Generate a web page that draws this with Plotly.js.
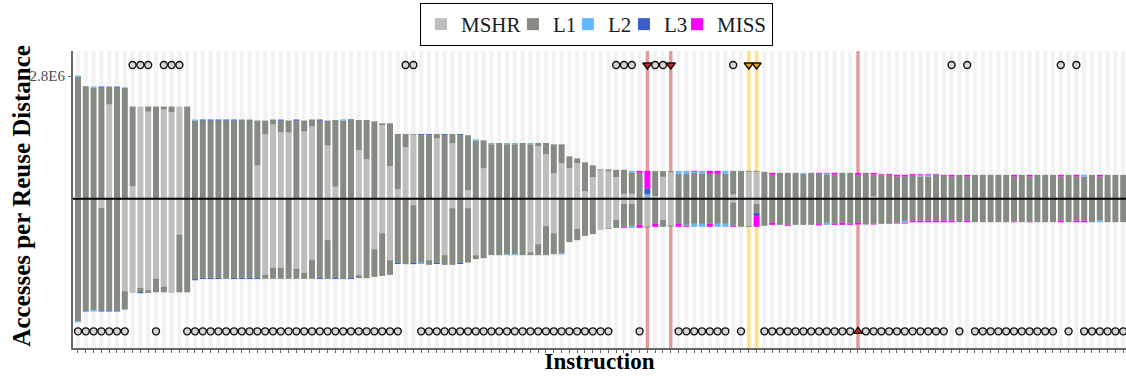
<!DOCTYPE html>
<html>
<head>
<meta charset="utf-8">
<script src="https://cdn.plot.ly/plotly-3.0.1.min.js"></script>
<style>html,body{margin:0;padding:0;background:#fff;}#chart{width:1126px;height:376px;}</style>
</head>
<body>
<div id="chart"></div>
<script>
// Values in millions of accesses (top = upper half, bot = lower half), one entry per instruction
const topMSHR = [
 0.036,0,0,0,2.150,0,0,0.287,2.104,1.990,
 0,2.036,1.974,2.104,0,0,0,0,0,0,
 0,0,0,0.759,1.466,1.694,1.518,1.512,0,1.534,
 1.648,0,1.215,0.278,0,0,1.113,0.901,0,1.676,
 0.748,0.217,1.174,1.459,0,0,1.379,0,1.265,0,
 0.194,0,0.695,0,0,0,0,0,0,1.204,
 1.015,0.581,0.809,0.695,0.809,0.171,0.490,0.650,0.622,0.495,
 0.114,0.114,0,0.039,0.062,0.502,0.609,0,0,0,
 0,0,0,0,0.098,0,0.616,0.616,0,0,
 0,0,0,0,0,0,0,0,0,0,
 0,0,0.052,0,0,0,0,0,0,0,
 0,0,0,0,0,0,0,0,0,0,
 0,0,0,0,0,0.023,0,0,0,0,
 0,0,0,0,0];
const topL1 = [
 2.747,2.567,2.533,2.533,0.410,2.533,2.538,1.817,0,0.114,
 2.104,0.068,0.130,0,2.104,1.781,1.781,1.781,1.781,1.781,
 1.781,1.808,1.808,1.026,0.319,0.114,0.262,0.274,1.781,0.251,
 0.160,1.781,0.570,1.518,1.785,1.785,0.684,0.896,1.767,0.046,
 0.974,1.261,0.303,0.018,1.450,1.450,0.098,1.450,0.212,1.450,
 1.254,1.329,0.638,1.245,1.272,1.245,1.245,1.272,1.245,0.068,
 0.258,0.661,0.433,0.274,0.114,0.661,0.274,0.023,0.050,0.166,
 0.547,0.479,0.593,0.007,0.570,0.130,0.023,0.570,0.570,0.593,
 0.570,0.570,0.570,0.570,0.540,0.638,0.023,0.023,0.616,0.547,
 0.593,0.593,0.593,0.570,0.593,0.570,0.554,0.554,0.593,0.593,
 0.547,0.593,0.502,0.554,0.547,0.508,0.508,0.547,0.508,0.508,
 0.554,0.524,0.508,0.547,0.508,0.547,0.547,0.547,0.547,0.547,
 0.508,0.547,0.508,0.547,0.547,0.524,0.508,0.547,0.508,0.508,
 0.547,0.508,0.547,0.547,0.547];
const topL2 = [
 0.027,0,0.027,0,0,0,0,0,0,0,
 0,0,0,0,0,0.027,0,0,0,0,
 0,0,0,0,0,0,0,0,0,0,
 0,0,0,0,0.027,0,0,0,0,0,
 0,0,0,0,0,0,0,0,0,0,
 0,0.027,0,0.027,0,0.027,0.027,0,0.027,0,
 0,0,0,0,0,0,0,0,0,0,
 0,0.046,0,0.059,0,0,0,0.068,0.068,0.023,
 0.068,0,0,0.068,0,0,0,0,0,0,
 0,0,0,0.023,0,0,0.023,0,0,0,
 0,0,0,0,0,0,0,0,0.046,0.046,
 0,0,0,0,0,0,0,0,0,0,
 0,0,0,0,0,0,0,0,0,0.039,
 0,0,0,0,0];
const topL3 = [
 0,0,0,0.027,0,0.027,0,0,0,0,
 0,0,0,0,0,0,0.027,0.027,0.027,0.027,
 0.027,0,0,0,0,0,0.027,0,0.027,0,
 0,0.027,0,0,0,0.027,0,0,0,0,
 0,0,0,0,0.027,0.027,0,0.027,0,0.027,
 0,0,0,0,0,0,0,0,0,0,
 0,0,0,0,0,0,0,0,0,0,
 0,0,0,0.130,0,0,0,0,0,0,
 0,0,0,0,0,0,0,0,0,0,
 0,0,0,0,0,0,0,0,0,0,
 0,0,0,0,0,0,0,0,0,0,
 0,0,0,0,0,0,0,0,0,0,
 0,0,0,0,0,0,0,0,0,0,
 0,0,0,0,0];
const topMISS = [
 0,0,0,0,0,0,0,0,0,0,
 0,0,0,0,0,0,0,0,0,0,
 0,0,0,0,0,0,0,0,0,0,
 0,0,0,0,0,0,0,0,0,0,
 0,0,0,0,0,0,0,0,0,0,
 0,0,0,0,0,0,0,0,0,0,
 0,0,0,0,0,0,0,0,0,0,
 0,0,0.046,0.404,0,0,0,0,0,0.023,
 0,0.068,0.068,0,0,0,0,0,0,0.046,
 0,0,0,0,0,0.023,0.016,0.039,0,0,
 0.046,0,0.039,0.016,0.023,0.039,0.039,0.023,0.016,0.016,
 0.016,0.023,0.039,0,0.039,0,0,0,0,0,
 0.039,0,0.039,0,0,0,0.039,0,0.039,0,
 0,0.039,0,0,0];
const botMSHR = [
 0,0,0,0.205,0,0,2.107,2.143,2.029,2.082,
 1.817,2.000,2.143,0.814,0,0,0,0,0,0,
 0,0,0,0,1.726,1.566,1.566,0,1.589,1.680,
 1.384,0,0.939,0,0,0,1.740,0,1.147,0.782,
 1.398,0,0,0.144,0,1.398,0,1.284,0.212,0,
 0.212,1.284,0,0,0,0,0,0,1.215,1.033,
 0.622,0.782,0,0,0.684,0,0,0.707,0.661,0.479,
 0.114,0.114,0,0.632,0,0.479,0.609,0,0,0,
 0,0,0,0,0.084,0,0.616,0.114,0,0,
 0,0,0,0,0,0,0,0,0,0,
 0,0,0,0,0,0,0,0,0,0,
 0,0,0,0,0,0,0,0,0,0,
 0,0,0,0,0,0,0,0,0,0,
 0,0,0,0,0];
const botL1 = [
 2.786,2.542,2.542,2.337,2.542,2.542,0.417,0,0.096,0.062,
 0.312,0.130,0,1.316,2.130,1.829,1.801,1.801,1.801,1.824,
 1.801,1.801,1.801,1.801,0.098,0.258,0.258,1.824,0.235,0.144,
 0.440,1.801,0.889,1.801,1.831,1.801,0.068,1.808,0.632,0.974,
 0.335,1.459,1.489,1.318,1.459,0.107,1.459,0.221,1.293,1.459,
 1.240,0.091,1.352,1.284,1.284,1.256,1.256,1.284,0.068,0.251,
 0.661,0.479,1.243,0.987,0.258,0.844,0.805,0,0.023,0.182,
 0.524,0.502,0.593,0.023,0.570,0.160,0.023,0.570,0.593,0.570,
 0.570,0.570,0.570,0.570,0.531,0.638,0.023,0.205,0.616,0.547,
 0.593,0.593,0.593,0.593,0.593,0.577,0.547,0.570,0.547,0.570,
 0.547,0.586,0.570,0.570,0.570,0.547,0.502,0.495,0.495,0.495,
 0.495,0.495,0.495,0.531,0.495,0.531,0.531,0.531,0.531,0.531,
 0.524,0.531,0.524,0.531,0.531,0.531,0.495,0.531,0.495,0.495,
 0.531,0.495,0.531,0.531,0.531];
const botL2 = [
 0.027,0,0.027,0,0,0,0,0,0,0,
 0,0,0,0,0,0,0,0,0,0,
 0,0,0,0,0,0,0,0,0,0,
 0,0,0,0,0,0,0,0,0,0,
 0,0,0,0,0.027,0,0,0,0,0,
 0,0,0,0,0,0.027,0.027,0,0,0,
 0,0,0.027,0,0,0,0,0,0,0,
 0,0.046,0,0,0,0,0,0,0.023,0.068,
 0.068,0,0.068,0.068,0,0,0,0,0,0,
 0,0,0,0,0,0,0.046,0,0,0,
 0,0,0,0,0,0,0.039,0,0,0,
 0,0,0,0,0,0,0,0,0,0,
 0,0,0,0,0,0,0,0,0,0,
 0,0.039,0,0,0];
const botL3 = [
 0,0.027,0,0.027,0.027,0.027,0,0,0.027,0,
 0,0,0,0,0,0.027,0.027,0.027,0.027,0,
 0.027,0.027,0.027,0.027,0,0,0,0,0,0,
 0,0.027,0,0.027,0,0.027,0,0,0,0,
 0,0.027,0,0.027,0,0,0.027,0,0,0.027,
 0,0,0,0,0,0,0,0,0,0,
 0,0,0,0,0,0,0,0,0,0,
 0,0,0,0,0,0,0,0,0,0,
 0,0,0,0,0,0,0,0.075,0,0,
 0,0,0,0,0,0,0,0,0,0,
 0,0,0,0,0,0,0,0,0,0,
 0,0,0,0,0,0,0,0,0,0,
 0,0,0,0,0,0,0,0,0,0,
 0,0,0,0,0];
const botMISS = [
 0,0,0,0,0,0,0,0,0,0,
 0,0,0,0,0,0,0,0,0,0,
 0,0,0,0,0,0,0,0,0,0,
 0,0,0,0,0,0,0,0,0,0,
 0,0,0,0,0,0,0,0,0,0,
 0,0,0,0,0,0,0,0,0,0,
 0,0,0,0,0,0,0,0,0,0,
 0.023,0,0.068,0,0.068,0,0,0.068,0.023,0,
 0,0.068,0,0,0.023,0,0,0.244,0,0.046,
 0,0.023,0,0,0,0.030,0,0.023,0.046,0.023,
 0.039,0,0.016,0,0,0.016,0.023,0.039,0.039,0.039,
 0.039,0.039,0.039,0,0.039,0,0,0,0,0,
 0.011,0,0.011,0,0,0,0.039,0,0.039,0.039,
 0,0,0,0,0];

// Event markers (instruction indices)
const topCircleIdx = [7,8,9,11,12,13,42,43,69,70,71,74,75,84,112,114,126,128];
const topRedTriIdx = [73,76];
const topOrangeTriIdx = [86,87];
const botRedTriIdx = [100];
const redStripeIdx = [73,76,100];
const yellowStripeIdx = [86,87];

const yTickVals = [2.8e6];
const yTickText = ['2.8E6'];
const seriesNames = ['MSHR','L1','L2','L3','MISS'];
const seriesColors = ['#bebebe','#858b82','#63b8ff','#3a5fcd','#ff00ff'];
const legendWidths = [47,10,11,8,50];

const N = topL1.length;
const xs = Array.from({length:N}, (_, i) => i);
const SCALE = 1e6;
const topSeries = [topMSHR, topL1, topL2, topL3, topMISS];
const botSeries = [botMSHR, botL1, botL2, botL3, botMISS];

const traces = [];
for (let s = 0; s < 5; s++) {
  traces.push({type:'bar', x:xs, y:topSeries[s].map(v => v*SCALE), name:seriesNames[s],
    marker:{color:seriesColors[s], line:{width:0}}, width:0.77, legendgroup:seriesNames[s],
    legendwidth:legendWidths[s], showlegend:true, hoverinfo:'skip'});
  traces.push({type:'bar', x:xs, y:botSeries[s].map(v => -v*SCALE), name:seriesNames[s],
    marker:{color:seriesColors[s], line:{width:0}}, width:0.77, legendgroup:seriesNames[s],
    showlegend:false, hoverinfo:'skip'});
}

const TOPY = 3.05e6, BOTY = -3.02e6;
const markedTop = new Set([...topCircleIdx, ...topRedTriIdx, ...topOrangeTriIdx]);
const botCircleIdx = xs.filter(i => !markedTop.has(i) && !botRedTriIdx.includes(i));
function mk(idx, y, symbol, fill, size) {
  return {type:'scatter', mode:'markers', x:idx, y:idx.map(() => y), showlegend:false,
    hoverinfo:'skip', cliponaxis:false,
    marker:{symbol:symbol, size:size, color:fill, line:{color:'#111', width:1.4}}};
}
traces.push(mk(topCircleIdx, TOPY, 'circle', '#d6d6d6', 7));
traces.push(mk(botCircleIdx, BOTY, 'circle', '#d6d6d6', 7));
traces.push(mk(topRedTriIdx, TOPY, 'triangle-down', '#cc2222', 8));
traces.push(mk(topOrangeTriIdx, TOPY, 'triangle-down', '#f5a300', 8));
traces.push(mk(botRedTriIdx, BOTY, 'triangle-up', '#cc2222', 8));

const shapes = [];
xs.forEach(i => {
  let col = '#f2f2f2', hw = 0.27;
  if (redStripeIdx.includes(i)) { col = '#e59a9a'; hw = 0.22; }
  if (yellowStripeIdx.includes(i)) { col = '#ffe08f'; hw = 0.24; }
  shapes.push({type:'rect', xref:'x', yref:'paper', x0:i-hw, x1:i+hw, y0:0, y1:1,
    fillcolor:col, line:{width:0}, layer:'below'});
});
shapes.push({type:'line', xref:'paper', yref:'y', x0:0, x1:1, y0:0, y1:0,
  line:{color:'#000', width:2}, layer:'above'});

const serif = 'Liberation Serif, Times New Roman, serif';
const layout = {
  width:1126, height:376,
  margin:{l:73, r:0, t:51, b:28},
  paper_bgcolor:'#fff', plot_bgcolor:'#fff',
  barmode:'relative',
  showlegend:true,
  legend:{orientation:'h', x:0.3295, xanchor:'left', y:1.1616, yanchor:'top',
    bordercolor:'#000', borderwidth:1, bgcolor:'#fff', traceorder:'normal',
    font:{family:serif, size:21, color:'#1a1a1a'}},
  xaxis:{range:[-0.64, N-0.64], showgrid:false, zeroline:false, showticklabels:false,
    ticks:'outside', tickmode:'linear', tick0:0, dtick:1, ticklen:3, tickwidth:1, tickcolor:'#666',
    showline:true, linecolor:'#666', linewidth:2,
    title:{text:'Instruction', font:{family:serif, size:23, color:'#000', weight:'bold'}, standoff:1}},
  yaxis:{range:[-3.40e6, 3.37e6], showgrid:false, zeroline:false,
    tickmode:'array', tickvals:yTickVals, ticktext:yTickText, ticks:'outside', ticklen:3,
    tickcolor:'#666', tickfont:{family:serif, size:15, color:'#4d4d4d'},
    showline:true, linecolor:'#666', linewidth:2},
  annotations:[{text:'Accesses per Reuse Distance', xref:'paper', yref:'paper',
    x:-0.0484, y:0.513, xanchor:'center', yanchor:'middle', textangle:-90, showarrow:false,
    font:{family:serif, size:25, color:'#000', weight:'bold'}}],
  shapes:shapes
};
Plotly.newPlot('chart', traces, layout, {displayModeBar:false, staticPlot:true});
</script>
</body>
</html>
